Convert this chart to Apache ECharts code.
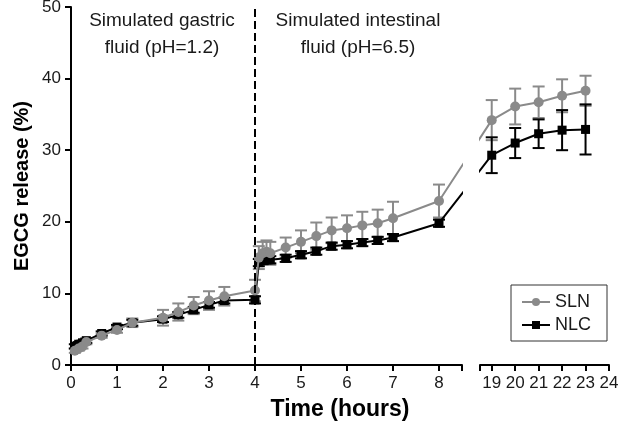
<!DOCTYPE html>
<html><head><meta charset="utf-8">
<script src="https://cdn.jsdelivr.net/npm/echarts@6/dist/echarts.min.js"></script>
<style>html,body{margin:0;padding:0;background:#fff}#c{width:621px;height:430px}</style>
</head><body><div id="c"></div>
<script>
// ---- data (hours, % released) ----
const times   = [0.083,0.167,0.25,0.333,0.667,1,1.333,2,2.333,2.667,3,3.333,4,4.083,4.167,4.25,4.333,4.667,5,5.333,5.667,6,6.333,6.667,7,8,19,20,21,22,23];
const slnMean = [2.0,2.3,2.6,3.2,4.1,4.9,5.9,6.6,7.4,8.3,9.0,9.6,10.4,15.0,15.6,15.8,15.6,16.4,17.2,18.0,18.8,19.1,19.5,19.8,20.5,22.9,34.2,36.1,36.7,37.6,38.3];
const slnSD   = [0.3,0.3,0.3,0.3,0.3,0.4,0.6,1.1,1.2,1.2,1.3,1.3,1.5,1.6,1.6,1.6,1.6,1.4,1.6,1.9,1.8,1.8,1.9,1.9,2.3,2.3,2.8,2.5,2.2,2.3,2.1];
const nlcMean = [2.6,2.9,3.1,3.4,4.4,5.3,5.9,6.4,7.0,7.7,8.4,9.0,9.1,14.3,14.6,14.7,14.7,14.9,15.4,15.9,16.6,16.8,17.1,17.4,17.8,19.8,29.3,31.0,32.3,32.8,32.9];
const nlcSD   = [0.3,0.3,0.3,0.3,0.3,0.3,0.4,0.4,0.4,0.4,0.4,0.4,0.5,0.5,0.5,0.5,0.5,0.5,0.5,0.5,0.5,0.5,0.5,0.5,0.5,0.5,2.5,2.1,2.0,2.8,3.5];
const leftRange  = [0, 8.5];
const rightRange = [18.5, 24];
const leftLabels  = [0,1,2,3,4,5,6,7,8];
const rightLabels = [19,20,21,22,23,24];
const yLabels = [0,10,20,30,40,50];
const phaseChange = 4;
const seriesNames = ['SLN','NLC'];

const FONT = '"Liberation Sans", Arial, sans-serif';
const GRAY = '#8a8a8a', BLACK = '#000000', TXT = '#1a1a1a';

const chart = echarts.init(document.getElementById('c'), null, {renderer:'canvas'});

function pts(mean, inRange) {
  const out = [];
  times.forEach((t,i)=>{ if (inRange(t)) out.push([t, mean[i]]); });
  return out;
}
function errs(mean, sd, inRange) {
  const out = [];
  times.forEach((t,i)=>{ if (inRange(t)) out.push([t, mean[i]-sd[i], mean[i]+sd[i]]); });
  return out;
}
const inL = t => t >= leftRange[0] && t <= leftRange[1];
const inR = t => t >= rightRange[0] && t <= rightRange[1];

function errRender(color) {
  return function(params, api) {
    const x = api.value(0), lo = api.value(1), hi = api.value(2);
    const a = api.coord([x, lo]), b = api.coord([x, hi]);
    const h = 6;
    const st = {stroke: color, lineWidth: 2};
    return {type:'group', children:[
      {type:'line', shape:{x1:a[0],y1:a[1],x2:b[0],y2:b[1]}, style:st},
      {type:'line', shape:{x1:b[0]-h,y1:b[1],x2:b[0]+h,y2:b[1]}, style:st},
      {type:'line', shape:{x1:a[0]-h,y1:a[1],x2:a[0]+h,y2:a[1]}, style:st}
    ]};
  };
}

const axisLine = {show:true, lineStyle:{color:'#000', width:2}};
const axisTick = (vals) => ({show:true, inside:false, length:6, lineStyle:{color:'#000', width:2}, customValues: vals});
const axisLabel = (vals) => ({show:true, customValues: vals, fontSize:17, color:TXT, fontFamily:FONT, margin:10});

const grids = [
  {left:71, top:7, width:391, height:358, containLabel:false, outerBoundsMode:'none'},
  {left:480, top:7, width:129, height:358, containLabel:false, outerBoundsMode:'none'}
];

function lineSeries(name, gi, data, color, symbol, size, z) {
  return {
    name, type:'line', xAxisIndex:gi, yAxisIndex:gi, data, clip:true,
    symbol, symbolSize:size, showSymbol:true,
    itemStyle:{color}, lineStyle:{color, width:2}, z, animation:false
  };
}

function buildSeries(bridge) {
  const sl = pts(slnMean, inL), nl = pts(nlcMean, inL);
  const sr = pts(slnMean, inR), nr = pts(nlcMean, inR);
  if (bridge) {
    const sLast = sl[sl.length-1][1], nLast = nl[nl.length-1][1];
    sl.push({value:[bridge.toLeft, sr[0][1]], symbol:'none'});
    nl.push({value:[bridge.toLeft, nr[0][1]], symbol:'none'});
    sr.unshift({value:[bridge.toRight, sLast], symbol:'none'});
    nr.unshift({value:[bridge.toRight, nLast], symbol:'none'});
  }
  const nlL = lineSeries('NLC',0,nl,BLACK,'rect',9,3);
  nlL.markLine = {
    silent:true, symbol:['none','none'], label:{show:false},
    lineStyle:{color:'#000', type:[8,4], width:2},
    data:[{xAxis: phaseChange}], animation:false
  };
  return [
    lineSeries('SLN',0,sl,GRAY,'circle',10,4),
    nlL,
    lineSeries('SLN',1,sr,GRAY,'circle',10,4),
    lineSeries('NLC',1,nr,BLACK,'rect',9,3),
    {name:'SLN err', type:'custom', xAxisIndex:0, yAxisIndex:0, data:errs(slnMean,slnSD,inL), renderItem:errRender(GRAY), encode:{x:0,y:[1,2]}, z:1, animation:false},
    {name:'NLC err', type:'custom', xAxisIndex:0, yAxisIndex:0, data:errs(nlcMean,nlcSD,inL), renderItem:errRender(BLACK), encode:{x:0,y:[1,2]}, z:2, animation:false},
    {name:'SLN err', type:'custom', xAxisIndex:1, yAxisIndex:1, data:errs(slnMean,slnSD,inR), renderItem:errRender(GRAY), encode:{x:0,y:[1,2]}, z:1, animation:false},
    {name:'NLC err', type:'custom', xAxisIndex:1, yAxisIndex:1, data:errs(nlcMean,nlcSD,inR), renderItem:errRender(BLACK), encode:{x:0,y:[1,2]}, z:2, animation:false}
  ];
}

const option = {
  animation:false,
  backgroundColor:'#fff',
  textStyle:{fontFamily:FONT},
  grid: grids,
  xAxis: [
    {type:'value', gridIndex:0, min:leftRange[0], max:leftRange[1], splitLine:{show:false},
     axisLine, axisTick:axisTick(leftLabels.concat([leftRange[1]])), axisLabel:axisLabel(leftLabels)},
    {type:'value', gridIndex:1, min:rightRange[0], max:rightRange[1], splitLine:{show:false},
     axisLine, axisTick:axisTick([rightRange[0]].concat(rightLabels)), axisLabel:axisLabel(rightLabels)}
  ],
  yAxis: [
    {type:'value', gridIndex:0, min:0, max:50, splitLine:{show:false},
     axisLine, axisTick:axisTick(yLabels), axisLabel:axisLabel(yLabels)},
    {type:'value', gridIndex:1, min:0, max:50, show:false}
  ],
  legend: {
    data: seriesNames, orient:'vertical', left:511, top:285,
    padding:[8,16,7,10], itemGap:5, itemWidth:28, itemHeight:10,
    borderColor:'#333', borderWidth:1, backgroundColor:'#fff',
    textStyle:{fontSize:18, color:TXT, fontFamily:FONT}
  },
  graphic: [
    {type:'text', style:{text:'Simulated gastric\nfluid (pH=1.2)', x:162, y:7, textAlign:'center', font:'19px '+FONT, lineHeight:27, fill:TXT}},
    {type:'text', style:{text:'Simulated intestinal\nfluid (pH=6.5)', x:358, y:7, textAlign:'center', font:'19px '+FONT, lineHeight:27, fill:TXT}},
    {type:'text', style:{text:'Time (hours)', x:340, y:398, textAlign:'center', font:'bold 23px '+FONT, fill:'#000'}},
    {type:'text', x:22, y:186, rotation:Math.PI/2, style:{text:'EGCG release (%)', x:0, y:0, textAlign:'center', textVerticalAlign:'middle', font:'bold 20px '+FONT, fill:'#000'}}
  ],
  series: buildSeries(null)
};
chart.setOption(option);

// bridge the lines across the axis break using the library's own scales
const firstR = times.find(inR);
const lastL = times.filter(inL).slice(-1)[0];
const pxR = chart.convertToPixel({xAxisIndex:1}, firstR);
const pxL = chart.convertToPixel({xAxisIndex:0}, lastL);
const bridge = {
  toLeft: chart.convertFromPixel({xAxisIndex:0}, pxR),
  toRight: chart.convertFromPixel({xAxisIndex:1}, pxL)
};
chart.setOption({series: buildSeries(bridge)});
</script>
</body></html>
